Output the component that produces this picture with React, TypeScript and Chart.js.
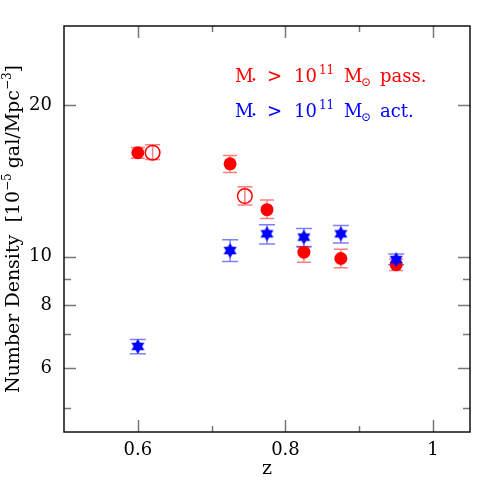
import React, { useEffect, useRef } from "react";
import { Chart, registerables } from "chart.js";
Chart.register(...registerables);

// ---- data ----
const zPass = [0.6, 0.725, 0.775, 0.825, 0.875, 0.95];
const nPass = [16.1, 15.3, 12.4, 10.2, 9.91, 9.63];
const nPassLow = [15.7, 14.7, 11.9, 9.74, 9.5, 9.38];
const nPassHigh = [16.5, 15.9, 12.96, 10.44, 10.34, 9.88];

const zPassOpen = [0.62, 0.745];
const nPassOpen = [16.1, 13.2];
const nPassOpenLow = [15.6, 12.66];
const nPassOpenHigh = [16.7, 13.77];

const zAct = [0.6, 0.725, 0.775, 0.825, 0.875, 0.95];
const nAct = [6.62, 10.28, 11.1, 10.93, 11.1, 9.86];
const nActLow = [6.4, 9.77, 10.59, 10.47, 10.64, 9.63];
const nActHigh = [6.83, 10.8, 11.57, 11.37, 11.53, 10.12];

const xTickValues = [0.6, 0.7, 0.8, 0.9, 1.0];
const xLabeled = [0.6, 0.8, 1.0];
const yTickValues = [5, 6, 7, 8, 9, 10, 20];
const yLabeled = [6, 8, 10, 20];

const X_MIN = 0.5;
const X_MAX = 1.05;
const Y_MIN = 4.47;
const Y_MAX = 28.8;

const RED = "#ff0000";
const BLUE = "#0000ff";
const RED_ERR = "rgba(255,40,40,0.6)";
const BLUE_ERR = "rgba(40,40,255,0.6)";
const FONT = "'DejaVu Serif', serif";

function makeStar(color: string, r: number) {
  const s = Math.ceil(r * 2 + 2);
  const c = document.createElement("canvas");
  c.width = s;
  c.height = s;
  const ctx = c.getContext("2d")!;
  ctx.fillStyle = color;
  const cx = s / 2,
    cy = s / 2;
  for (const rot of [-Math.PI / 2, Math.PI / 2]) {
    ctx.beginPath();
    for (let i = 0; i < 3; i++) {
      const a = rot + (i * 2 * Math.PI) / 3;
      const px = cx + r * Math.cos(a);
      const py = cy + r * Math.sin(a);
      if (i === 0) ctx.moveTo(px, py);
      else ctx.lineTo(px, py);
    }
    ctx.closePath();
    ctx.fill();
  }
  return c;
}

const errorSets = [
  { x: zPass, lo: nPassLow, hi: nPassHigh, color: RED_ERR, cap: 7 },
  { x: zPassOpen, lo: nPassOpenLow, hi: nPassOpenHigh, color: RED_ERR, cap: 7.5 },
  { x: zAct, lo: nActLow, hi: nActHigh, color: BLUE_ERR, cap: 8 },
];

const errorBarPlugin = {
  id: "errorBars",
  beforeDatasetsDraw(chart: any) {
    const { ctx, scales } = chart;
    const xs = scales.x,
      ys = scales.y;
    ctx.save();
    ctx.lineWidth = 1.5;
    for (const set of errorSets) {
      ctx.strokeStyle = set.color;
      for (let i = 0; i < set.x.length; i++) {
        const px = xs.getPixelForValue(set.x[i]);
        const pl = ys.getPixelForValue(set.lo[i]);
        const ph = ys.getPixelForValue(set.hi[i]);
        ctx.beginPath();
        ctx.moveTo(px, pl);
        ctx.lineTo(px, ph);
        ctx.moveTo(px - set.cap, pl);
        ctx.lineTo(px + set.cap, pl);
        ctx.moveTo(px - set.cap, ph);
        ctx.lineTo(px + set.cap, ph);
        ctx.stroke();
      }
    }
    ctx.restore();
  },
};

const frameTicksPlugin = {
  id: "frameTicks",
  afterDatasetsDraw(chart: any) {
    const { ctx, chartArea, scales } = chart;
    const { left, right, top, bottom } = chartArea;
    ctx.save();
    ctx.strokeStyle = "#777";
    ctx.lineWidth = 1.5;
    ctx.beginPath();
    for (const v of xTickValues) {
      const px = Math.round(scales.x.getPixelForValue(v)) + 0.5;
      const len = xLabeled.includes(v) ? 12 : 6;
      ctx.moveTo(px, bottom);
      ctx.lineTo(px, bottom - len);
      ctx.moveTo(px, top);
      ctx.lineTo(px, top + len);
    }
    for (const v of yTickValues) {
      const py = Math.round(scales.y.getPixelForValue(v)) + 0.5;
      const len = yLabeled.includes(v) ? 12 : 7;
      ctx.moveTo(left, py);
      ctx.lineTo(left + len, py);
      ctx.moveTo(right, py);
      ctx.lineTo(right - len, py);
    }
    ctx.stroke();
    ctx.strokeStyle = "#111";
    ctx.lineWidth = 1.5;
    ctx.strokeRect(left, top, right - left, bottom - top);
    ctx.restore();
  },
};

type Seg = { t: string; size: number; dy?: number; gap?: number; at?: number };

function segWidth(ctx: CanvasRenderingContext2D, segs: Seg[]) {
  let w = 0;
  for (const s of segs) {
    ctx.font = `${s.size}px ${FONT}`;
    w += ctx.measureText(s.t).width + (s.gap || 0);
  }
  return w;
}

function drawSegs(ctx: CanvasRenderingContext2D, segs: Seg[], x: number, y: number) {
  let cx = x;
  for (const s of segs) {
    ctx.font = `${s.size}px ${FONT}`;
    if (s.at !== undefined) cx = x + s.at;
    ctx.fillText(s.t, cx, y + (s.dy || 0));
    cx += ctx.measureText(s.t).width + (s.gap || 0);
  }
}

const textPlugin = {
  id: "texts",
  afterDraw(chart: any) {
    const { ctx, chartArea } = chart;
    const { left, right, top, bottom } = chartArea;
    const w = right - left,
      h = bottom - top;
    ctx.save();
    ctx.textBaseline = "alphabetic";
    ctx.textAlign = "left";

    // legend texts
    const legend = (label: string, color: string, fy: number) => {
      ctx.fillStyle = color;
      const segs: Seg[] = [
        { t: "M", size: 18, at: 0 },
        { t: "•", size: 10, dy: 1, at: 16 },
        { t: ">", size: 18, at: 32 },
        { t: "10", size: 18, at: 59 },
        { t: "11", size: 12, dy: -8, at: 84 },
        { t: "M", size: 18, at: 109 },
        { t: "⊙", size: 12, dy: 4, at: 126 },
        { t: label, size: 18, at: 145 },
      ];
      drawSegs(ctx, segs, left + w * 0.421, top + h * fy);
    };
    legend("pass.", RED, 0.138);
    legend("act.", BLUE, 0.224);

    // y axis title
    ctx.fillStyle = "#000";
    const ySegs: Seg[] = [
      { t: "Number Density  [10", size: 19 },
      { t: "−5", size: 12, dy: -8, gap: 5 },
      { t: "gal/Mpc", size: 19 },
      { t: "−3", size: 12, dy: -8 },
      { t: "]", size: 19 },
    ];
    const tw = segWidth(ctx, ySegs);
    ctx.translate(19, top + h / 2);
    ctx.rotate(-Math.PI / 2);
    drawSegs(ctx, ySegs, -tw / 2, 0);
    ctx.setTransform(1, 0, 0, 1, 0, 0);

    // x axis title
    ctx.font = `19px ${FONT}`;
    ctx.textAlign = "center";
    ctx.textBaseline = "middle";
    ctx.fillText("z", left + w / 2, 469);
    ctx.restore();
  },
};

export default function App() {
  const ref = useRef<HTMLCanvasElement>(null);
  useEffect(() => {
    document.body.style.margin = "0";
    const star = makeStar(BLUE, 7.5);
    const chart = new Chart(ref.current!, {
      type: "scatter",
      data: {
        datasets: [
          {
            label: "act",
            data: zAct.map((z, i) => ({ x: z, y: nAct[i] })),
            pointStyle: star as any,
            pointRadius: 7.5,
            backgroundColor: BLUE,
            borderColor: BLUE,
            order: 0,
          },
          {
            label: "pass",
            data: zPass.map((z, i) => ({ x: z, y: nPass[i] })),
            pointStyle: "circle",
            pointRadius: 6.5,
            backgroundColor: RED,
            borderColor: RED,
            borderWidth: 0,
            order: 1,
          },
          {
            label: "pass open",
            data: zPassOpen.map((z, i) => ({ x: z, y: nPassOpen[i] })),
            pointStyle: "circle",
            pointRadius: 7.3,
            backgroundColor: "rgba(0,0,0,0)",
            borderColor: RED,
            borderWidth: 1.5,
            order: 2,
          },
        ],
      },
      options: {
        responsive: false,
        animation: false,
        events: [],
        layout: { padding: { top: 26, right: 21, left: 0, bottom: 0 } },
        plugins: { legend: { display: false }, tooltip: { enabled: false } },
        scales: {
          x: {
            type: "linear",
            min: X_MIN,
            max: X_MAX,
            grid: { display: false, drawTicks: false },
            border: { display: false },
            afterBuildTicks: (s: any) => {
              s.ticks = xTickValues.map((v) => ({ value: v }));
            },
            afterFit: (s: any) => {
              s.height = 63;
            },
            ticks: {
              autoSkip: false,
              maxRotation: 0,
              padding: 8,
              color: "#000",
              font: { family: FONT, size: 18 },
              callback: (v: any) => {
                const n = Number(v);
                return xLabeled.some((l) => Math.abs(l - n) < 1e-9) ? String(Number(n.toFixed(1))) : "";
              },
            },
          },
          y: {
            type: "logarithmic",
            min: Y_MIN,
            max: Y_MAX,
            grid: { display: false, drawTicks: false },
            border: { display: false },
            afterBuildTicks: (s: any) => {
              s.ticks = yTickValues.map((v) => ({ value: v }));
            },
            afterFit: (s: any) => {
              s.width = 64;
            },
            ticks: {
              autoSkip: false,
              padding: 12,
              color: "#000",
              font: { family: FONT, size: 18 },
              callback: (v: any) => {
                const n = Number(v);
                return yLabeled.includes(n) ? String(n) : "";
              },
            },
          },
        },
      },
      plugins: [errorBarPlugin, frameTicksPlugin, textPlugin],
    });
    return () => chart.destroy();
  }, []);
  return (
    <div style={{ position: "absolute", left: 0, top: 0, width: 491, height: 495 }}>
      <canvas ref={ref} width={491} height={495} style={{ display: "block" }} />
    </div>
  );
}
